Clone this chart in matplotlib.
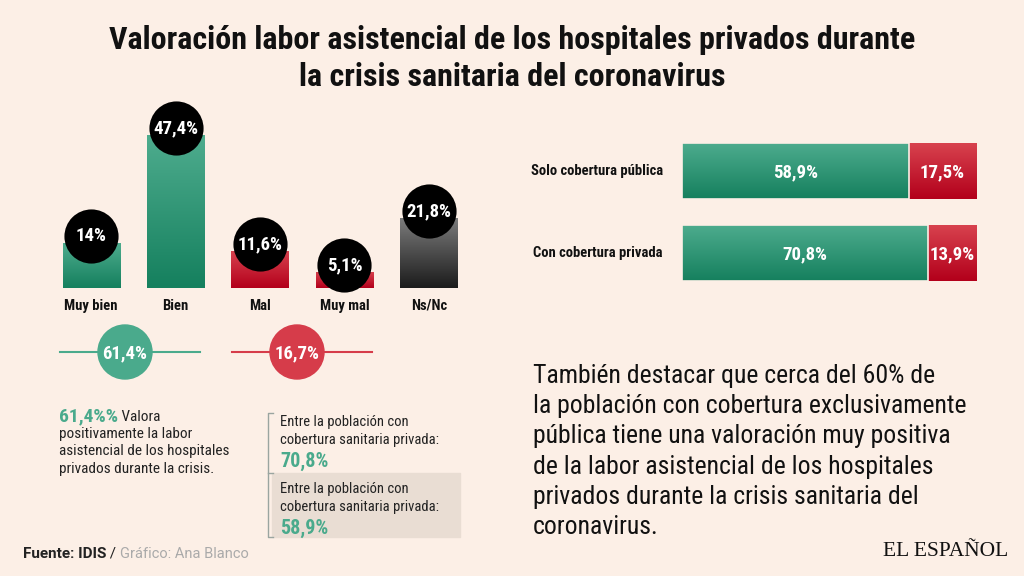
import numpy as np
import matplotlib
matplotlib.use('Agg')
import matplotlib.pyplot as plt
from matplotlib import font_manager
from matplotlib.colors import LinearSegmentedColormap
from matplotlib.patches import Circle, Rectangle

# --- data ---
categories = ['Muy bien', 'Bien', 'Mal', 'Muy mal', 'Ns/Nc']
values = [14, 47.4, 11.6, 5.1, 21.8]
groups = ['Solo cobertura pública', 'Con cobertura privada']
positive = [58.9, 70.8]
negative = [17.5, 13.9]
summary = [61.4, 16.7]

W, H = 1024, 576
BG = '#fcefe6'
GREEN_TOP, GREEN_BOT = '#4eac8e', '#15805e'
RED_TOP, RED_BOT = '#d8434f', '#b3001b'
GRAY_TOP, GRAY_BOT = '#7c7c7c', '#1c1c1c'
GREEN = '#4aaa8c'
RED = '#d63c4a'


def pick_font(names):
    for n in names:
        try:
            font_manager.findfont(font_manager.FontProperties(family=n), fallback_to_default=False)
            return n
        except ValueError:
            pass
    return 'DejaVu Sans'


COND = pick_font(['Roboto Condensed', 'Liberation Sans Narrow', 'Arial Narrow'])
SERIF = pick_font(['Liberation Serif', 'DejaVu Serif'])
plt.rcParams['font.family'] = [COND, 'DejaVu Sans']


def fmt(v):
    return f'{v:g}'.replace('.', ',') + '%'


def rect(l, t, r, b):
    return [l / W, 1 - b / H, (r - l) / W, (b - t) / H]


def grad_fill(ax, patch, top, bottom, inverted=False):
    cmap = LinearSegmentedColormap.from_list('g', [bottom, top])
    x0, y0 = patch.get_xy()
    w, h = patch.get_width(), patch.get_height()
    img = np.linspace(0, 1, 64).reshape(-1, 1)
    ext = [x0, x0 + w, y0 + h, y0] if inverted else [x0, x0 + w, y0, y0 + h]
    im = ax.imshow(img, cmap=cmap, aspect='auto', origin='lower', extent=ext,
                   zorder=patch.get_zorder() - 0.1, interpolation='bilinear')
    im.set_clip_path(patch)
    patch.set_facecolor('none')


fig = plt.figure(figsize=(W / 100, H / 100), dpi=100, facecolor=BG)

# overlay in pixel coordinates for text and decorations
ov = fig.add_axes([0, 0, 1, 1])
ov.set_xlim(0, W)
ov.set_ylim(H, 0)
ov.axis('off')

ov.text(512, 40, 'Valoración labor asistencial de los hospitales privados durante',
        ha='center', va='center', fontsize=23, weight='bold', color='#111')
ov.text(512, 77, 'la crisis sanitaria del coronavirus',
        ha='center', va='center', fontsize=23, weight='bold', color='#111')

# --- left: vertical bars ---
PXU = 3.23
ax1 = fig.add_axes(rect(49, 90, 471, 288))
ax1.patch.set_alpha(0)
ax1.axis('off')
x = np.arange(len(categories))
bars = ax1.bar(x, values, width=0.68, zorder=2)
cols = [(GREEN_TOP, GREEN_BOT)] * 2 + [(RED_TOP, RED_BOT)] * 2 + [(GRAY_TOP, GRAY_BOT)]
for b, (ct, cb) in zip(bars, cols):
    grad_fill(ax1, b, ct, cb)
    b.set_edgecolor('none')
ax1.set_xlim(-0.5, 4.5)
ax1.set_ylim(0, (288 - 90) / PXU)
circ_y = np.array(values) + 6.5 / PXU
ax1.scatter(x, circ_y, s=1520, c='black', zorder=5, clip_on=False, linewidths=0)
for xi, yi, v in zip(x, circ_y, values):
    ax1.text(xi, yi, fmt(v), ha='center', va='center', color='white',
             fontsize=13.5, weight='bold', zorder=6)
for xi, c in zip(x, categories):
    ax1.text(xi, -18 / PXU, c, ha='center', va='center', fontsize=10.5,
             weight='bold', color='#111')

# summary circles
for cx, v, c in zip([125, 297], summary, [GREEN, RED]):
    ov.plot([cx - 65, cx + 75], [352, 352], color=c, lw=1.5, zorder=1)
    ov.add_patch(Circle((cx, 352), 27, color=c, zorder=2))
    ov.text(cx, 353, fmt(v), ha='center', va='center', color='white',
            fontsize=13.5, weight='bold', zorder=3)

# left note
t = ov.text(59, 416, fmt(summary[0]) + '%', ha='left', va='center',
            fontsize=14, weight='bold', color=GREEN)
ov.annotate(' Valora', xy=(1, 0.45), xycoords=t, ha='left', va='center',
            fontsize=11, color='#222')
for i, line in enumerate(['positivamente la labor', 'asistencial de los hospitales',
                          'privados durante la crisis.']):
    ov.text(59, 434 + 17.5 * i, line, ha='left', va='center', fontsize=11, color='#222')

# bracket note
ov.add_patch(Rectangle((272, 473), 188, 64, color='#e9ddd3', zorder=0))
ov.plot([273, 268, 268, 273], [413, 413, 537, 537], color='#9aa5a0', lw=1)
ov.plot([268, 273], [473, 473], color='#9aa5a0', lw=1)
for y0, v in [(422, positive[1]), (489, positive[0])]:
    ov.text(280, y0, 'Entre la población con', ha='left', va='center', fontsize=10.5, color='#222')
    ov.text(280, y0 + 18, 'cobertura sanitaria privada:', ha='left', va='center',
            fontsize=10.5, color='#222')
    ov.text(280, y0 + 39, fmt(v), ha='left', va='center', fontsize=14.5,
            weight='bold', color=GREEN)

# footer
t = ov.text(23, 554, 'Fuente: IDIS', ha='left', va='center', fontsize=11,
            weight='bold', color='#222', family='Roboto')
t2 = ov.annotate(' / ', xy=(1, 0.5), xycoords=t, ha='left', va='center',
                 fontsize=11, color='#222', family='Roboto')
ov.annotate('Gráfico: Ana Blanco', xy=(1, 0.5), xycoords=t2, ha='left', va='center',
            fontsize=10.5, color='#aaaaaa', family='Roboto')

# --- right: stacked horizontal bars (share of opinions) ---
ax2 = fig.add_axes(rect(682, 130, 976, 294))
ax2.patch.set_alpha(0)
ax2.axis('off')
pos = np.array(positive)
neg = np.array(negative)
tot = pos + neg
yy = np.arange(len(groups))
gb = ax2.barh(yy, pos / tot, height=0.69, zorder=2)
rb = ax2.barh(yy, neg / tot, left=pos / tot, height=0.69, zorder=2)
for b in gb:
    grad_fill(ax2, b, GREEN_TOP, GREEN_BOT, inverted=True)
    b.set_edgecolor(BG)
    b.set_linewidth(1.2)
for b in rb:
    grad_fill(ax2, b, RED_TOP, RED_BOT, inverted=True)
    b.set_edgecolor('none')
ax2.set_xlim(0, 1)
ax2.set_ylim(1.5, -0.5)
for yi, p, n, t_ in zip(yy, pos, neg, tot):
    ax2.text(p / t_ / 2, yi + 0.02, fmt(p), ha='center', va='center', color='white',
             fontsize=13.5, weight='bold', zorder=5)
    ax2.text(p / t_ + n / t_ / 2, yi + 0.02, fmt(n), ha='center', va='center',
             color='white', fontsize=13.5, weight='bold', zorder=5)
    ax2.text(-0.065, yi, groups[yi], ha='right', va='center', fontsize=10.5,
             weight='bold', color='#111')

# right paragraph
para = ['También destacar que cerca del 60% de',
        'la población con cobertura exclusivamente',
        'pública tiene una valoración muy positiva',
        'de la labor asistencial de los hospitales',
        'privados durante la crisis sanitaria del',
        'coronavirus.']
for i, line in enumerate(para):
    ov.text(533, 376 + 30.2 * i, line, ha='left', va='center', fontsize=18.5, color='#111')

ov.text(1008, 551, 'EL ESPAÑOL', ha='right', va='center', fontsize=15.5,
        family=SERIF, color='#111')

fig.savefig('out.png', dpi=100, facecolor=BG)
